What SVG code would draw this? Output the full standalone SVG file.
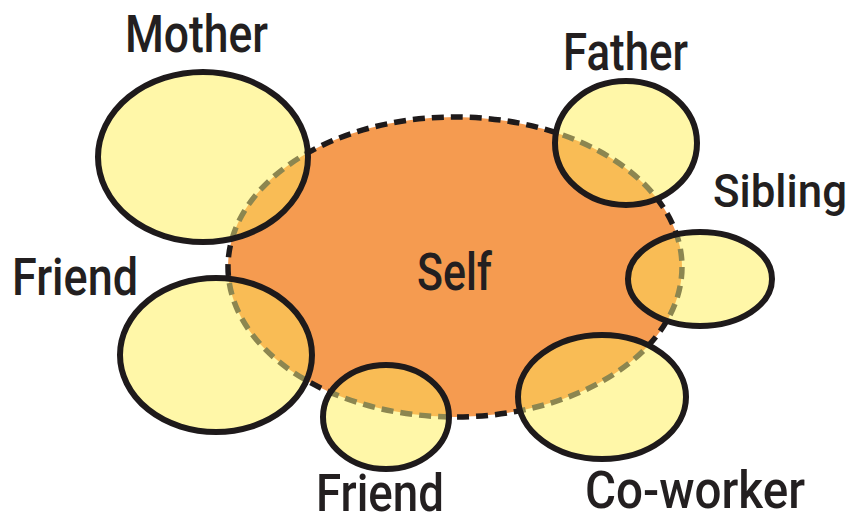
<svg xmlns="http://www.w3.org/2000/svg" xmlns:xlink="http://www.w3.org/1999/xlink" width="860" height="524" viewBox="0 0 860 524">
<style>
.lbl{font-family:Roboto,"Liberation Sans",sans-serif;font-weight:500;font-size:51px;fill:#231F20}
.yf{fill:#FFF7A8}
.ov{fill:#F9BC55}
.ring{fill:none;stroke:#1E1A1B;stroke-width:6}
.olive{fill:none;stroke:#8C8650;stroke-width:5.5;stroke-dasharray:12 7}
.selfline{fill:none;stroke:#1E1A1B;stroke-width:5.5;stroke-dasharray:12 7}
</style>
<defs>
<ellipse id="selfShape" cx="455" cy="267" rx="227" ry="150"/>
<clipPath id="selfClip"><use xlink:href="#selfShape"/></clipPath>
<clipPath id="cMother"><ellipse cx="203" cy="157" rx="105" ry="85"/></clipPath>
<clipPath id="cFather"><ellipse cx="626" cy="143" rx="71" ry="62"/></clipPath>
<clipPath id="cSibling"><ellipse cx="700" cy="279" rx="72" ry="47"/></clipPath>
<clipPath id="cFriend1"><ellipse cx="216" cy="355" rx="96" ry="77"/></clipPath>
<clipPath id="cFriend2"><ellipse cx="386" cy="417" rx="63" ry="52"/></clipPath>
<clipPath id="cCoworker"><ellipse cx="602" cy="397" rx="84" ry="62"/></clipPath>
</defs>
<rect width="860" height="524" fill="#FFFFFF"/>
<g id="self">
<use xlink:href="#selfShape" fill="#F59B50"/>
<use xlink:href="#selfShape" class="selfline"/>
<text class="lbl" x="417" y="290" textLength="75" lengthAdjust="spacingAndGlyphs">Self</text>
</g>
<g id="connectors"/>
<g id="mother">
<ellipse class="yf" cx="203" cy="157" rx="105" ry="85"/>
<ellipse class="ov" cx="203" cy="157" rx="105" ry="85" clip-path="url(#selfClip)"/>
<g clip-path="url(#cMother)"><use xlink:href="#selfShape" class="olive"/></g>
<ellipse class="ring" cx="203" cy="157" rx="105" ry="85"/>
<text class="lbl" x="125" y="52" textLength="143" lengthAdjust="spacingAndGlyphs">Mother</text>
</g>
<g id="father">
<ellipse class="yf" cx="626" cy="143" rx="71" ry="62"/>
<ellipse class="ov" cx="626" cy="143" rx="71" ry="62" clip-path="url(#selfClip)"/>
<g clip-path="url(#cFather)"><use xlink:href="#selfShape" class="olive"/></g>
<ellipse class="ring" cx="626" cy="143" rx="71" ry="62"/>
<text class="lbl" x="563" y="70" textLength="125" lengthAdjust="spacingAndGlyphs">Father</text>
</g>
<g id="sibling">
<ellipse class="yf" cx="700" cy="279" rx="72" ry="47"/>
<ellipse class="ov" cx="700" cy="279" rx="72" ry="47" clip-path="url(#selfClip)"/>
<g clip-path="url(#cSibling)"><use xlink:href="#selfShape" class="olive"/></g>
<ellipse class="ring" cx="700" cy="279" rx="72" ry="47"/>
<text class="lbl" x="713" y="207" style="font-size:47px" textLength="134" lengthAdjust="spacingAndGlyphs">Sibling</text>
</g>
<g id="friend-left">
<ellipse class="yf" cx="216" cy="355" rx="96" ry="77"/>
<ellipse class="ov" cx="216" cy="355" rx="96" ry="77" clip-path="url(#selfClip)"/>
<g clip-path="url(#cFriend1)"><use xlink:href="#selfShape" class="olive"/></g>
<ellipse class="ring" cx="216" cy="355" rx="96" ry="77"/>
<text class="lbl" x="12" y="295" textLength="126" lengthAdjust="spacingAndGlyphs">Friend</text>
</g>
<g id="friend-bottom">
<ellipse class="yf" cx="386" cy="417" rx="63" ry="52"/>
<ellipse class="ov" cx="386" cy="417" rx="63" ry="52" clip-path="url(#selfClip)"/>
<g clip-path="url(#cFriend2)"><use xlink:href="#selfShape" class="olive"/></g>
<ellipse class="ring" cx="386" cy="417" rx="63" ry="52"/>
<text class="lbl" x="316" y="511" textLength="128" lengthAdjust="spacingAndGlyphs">Friend</text>
</g>
<g id="coworker">
<ellipse class="yf" cx="602" cy="397" rx="84" ry="62"/>
<ellipse class="ov" cx="602" cy="397" rx="84" ry="62" clip-path="url(#selfClip)"/>
<g clip-path="url(#cCoworker)"><use xlink:href="#selfShape" class="olive"/></g>
<ellipse class="ring" cx="602" cy="397" rx="84" ry="62"/>
<text class="lbl" x="585" y="508" textLength="220" lengthAdjust="spacingAndGlyphs">Co-worker</text>
</g>
</svg>
